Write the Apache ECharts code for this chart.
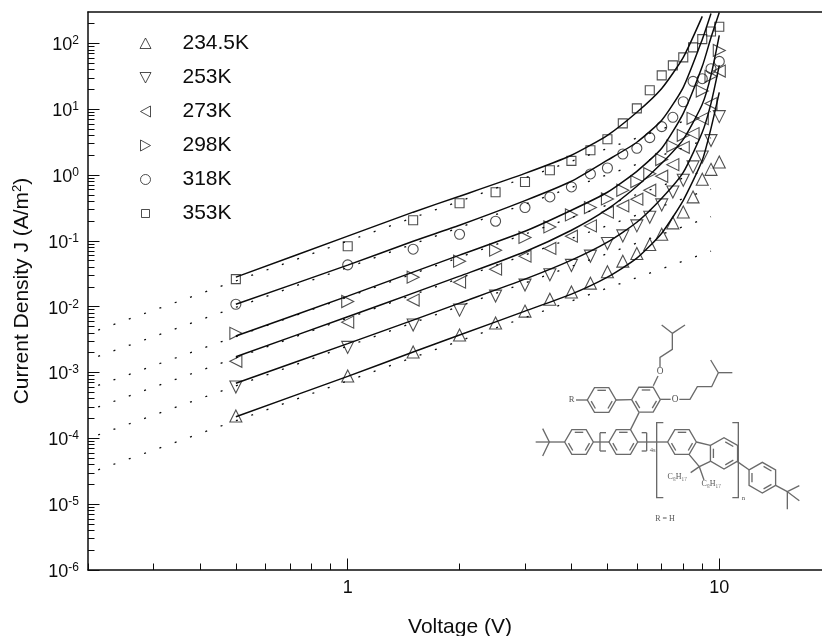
<!DOCTYPE html>
<html>
<head>
<meta charset="utf-8">
<style>html,body{margin:0;padding:0;background:#fff}#c{width:822px;height:636px}</style>
<script src="https://cdn.jsdelivr.net/npm/echarts@6/dist/echarts.min.js"></script>
</head>
<body>
<div id="c"></div>
<script>
// ---- data ----
const names = ['234.5K', '253K', '273K', '298K', '318K', '353K'];
const measuredV = [0.5, 1, 1.5, 2, 2.5, 3, 3.5, 4, 4.5, 5, 5.5, 6, 6.5, 7, 7.5, 8, 8.5, 9, 9.5, 10];
const j234 = [0.000219, 0.000885, 0.00205, 0.00371, 0.00564, 0.00857, 0.0130, 0.0167, 0.0228, 0.0339, 0.0492, 0.0644, 0.0881, 0.126, 0.188, 0.275, 0.466, 0.863, 1.22, 1.58];
const j253 = [0.000603, 0.00241, 0.00526, 0.00887, 0.0145, 0.0213, 0.0305, 0.0424, 0.0586, 0.0914, 0.119, 0.169, 0.229, 0.352, 0.554, 0.834, 1.33, 1.88, 3.34, 7.72];
const j273 = [0.00148, 0.00583, 0.0126, 0.0236, 0.0372, 0.0586, 0.0767, 0.118, 0.169, 0.273, 0.340, 0.430, 0.588, 0.959, 1.44, 2.64, 4.26, 7.20, 12.2, 38.0];
const j298 = [0.00394, 0.0120, 0.0281, 0.0492, 0.0723, 0.113, 0.163, 0.248, 0.321, 0.434, 0.588, 0.797, 1.05, 1.72, 2.76, 4.02, 7.28, 18.9, 31.6, 78.3];
const j318 = [0.0109, 0.0432, 0.0748, 0.126, 0.199, 0.321, 0.465, 0.66, 1.04, 1.28, 2.09, 2.55, 3.71, 5.44, 7.54, 13.0, 26.5, 29.1, 41.3, 53.3];
const j353 = [0.0262, 0.083, 0.206, 0.373, 0.548, 0.786, 1.18, 1.64, 2.38, 3.49, 6.1, 10.3, 19.4, 32.7, 46.4, 61.3, 86.9, 116, 152, 179];
const measured = [j234, j253, j273, j298, j318, j353];

// solid fit curves
const fitV234 = [0.5, 1, 1.5, 2, 3, 4, 5, 6, 7, 8, 9, 9.5, 10];
const fit234 = [0.000213, 0.000875, 0.00205, 0.00371, 0.00857, 0.0155, 0.0281, 0.0546, 0.131, 0.414, 1.68, 5.13, 18.0];
const fitV253 = [0.5, 1, 1.5, 2, 3, 4, 5, 6, 7, 8, 9, 9.5, 10];
const fit253 = [0.000686, 0.00275, 0.00626, 0.01135, 0.0262, 0.0509, 0.0955, 0.192, 0.445, 1.10, 4.46, 12.3, 46.4];
const fitV273 = [0.5, 1, 1.5, 2, 3, 4, 5, 6, 7, 8, 9, 9.5, 10];
const fit273 = [0.00174, 0.00703, 0.0161, 0.0291, 0.0685, 0.145, 0.303, 0.676, 1.51, 3.49, 11.9, 32.7, 132];
const fitV298 = [0.5, 1, 1.5, 2, 3, 4, 5, 6, 7, 8, 9, 9.5, 10];
const fit298 = [0.00358, 0.0145, 0.0335, 0.0607, 0.140, 0.292, 0.548, 1.14, 2.55, 8.67, 44.8, 123, 295];
const fitV318 = [0.5, 1, 1.5, 2, 3, 4, 5, 6, 7, 8, 9, 9.5];
const fit318 = [0.0109, 0.0428, 0.0989, 0.173, 0.409, 0.805, 1.68, 3.15, 6.79, 21.5, 115, 285];
const fitV353 = [0.5, 1, 1.5, 2, 3, 4, 5, 6, 7, 8, 9];
const fit353 = [0.0281, 0.118, 0.273, 0.477, 1.06, 2.0, 4.02, 9.0, 20.7, 61.3, 257];
const fitX = [fitV234, fitV253, fitV273, fitV298, fitV318, fitV353];
const fitY = [fit234, fit253, fit273, fit298, fit318, fit353];

// dotted low-voltage extrapolations: ends at V = 0.213 and V = 9.5
const dotV = [0.213, 9.5];
const dot234 = [3.32e-5, 0.0697];
const dot253 = [1.128e-4, 0.233];
const dot273 = [3.0e-4, 0.62];
const dot298 = [6.38e-4, 1.27];
const dot318 = [0.00176, 3.68];
const dot353 = [0.00442, 9.23];
const dotted = [dot234, dot253, dot273, dot298, dot318, dot353];

const xMajor = [1, 10];
const xMinor = [0.2, 0.3, 0.4, 0.5, 0.6, 0.7, 0.8, 0.9, 2, 3, 4, 5, 6, 7, 8, 9];
const yMajor = [1e-6, 1e-5, 1e-4, 1e-3, 1e-2, 1e-1, 1, 10, 100];
const yMinor = [];
[1e-6, 1e-5, 1e-4, 1e-3, 1e-2, 1e-1, 1, 10].forEach(d => [2,3,4,5,6,7,8,9].forEach(m => yMinor.push(+(d * m).toPrecision(2))));
yMinor.push(200);

// ---- styling ----
const FONT = '"Liberation Sans", Arial, sans-serif';
const INK = '#0c0c0c';
const symbols = ['triangle', 'triangle', 'triangle', 'triangle', 'circle', 'rect'];
const rotations = [0, 180, 90, -90, 0, 0];
const sizes = [12, 12, 12, 12, 10, 9];
// legend glyphs in a 12x12 box (the two leading moves fix the box)
const legendIcons = [
  'path://M0 0M12 12M0.5 11L6 0.5L11.5 11Z',
  'path://M0 0M12 12M0.5 1L11.5 1L6 11.5Z',
  'path://M0 0M12 12M1 6L11 0.5L11 11.5Z',
  'path://M0 0M12 12M11 6L1 0.5L1 11.5Z',
  'path://M0 0M12 12M1 6A5 5 0 1 0 11 6A5 5 0 1 0 1 6Z',
  'path://M0 0M12 12M2 2L10 2L10 10L2 10Z'
];

const series = [];
names.forEach((n, i) => {
  series.push({
    name: n + ' fit', type: 'line', xAxisIndex: 0, yAxisIndex: 0, showSymbol: false, symbol: 'none',
    smooth: 0.2, clip: true, silent: true,
    lineStyle: { color: INK, width: 1.5 },
    data: fitX[i].map((v, k) => [v, fitY[i][k]])
  });
  series.push({
    name: n + ' extrapolation', type: 'line', xAxisIndex: 0, yAxisIndex: 0, showSymbol: false, symbol: 'none',
    silent: true,
    lineStyle: { color: INK, width: 1.3, type: [2, 14.25] },
    data: dotV.map((v, k) => [v, dotted[i][k]])
  });
  series.push({
    name: n, type: 'scatter', xAxisIndex: 0, yAxisIndex: 0,
    symbol: symbols[i], symbolSize: sizes[i], symbolRotate: rotations[i],
    itemStyle: { color: 'rgba(0,0,0,0)', borderColor: '#222', borderWidth: 1.1 },
    data: measuredV.map((v, k) => [v, measured[i][k]])
  });
});

// ---- molecule inset (decorative drawing, coordinates in a 3x local frame) ----
const INSET = '#6a6a6a';
function hex(c, r, rot) {
  const p = [];
  for (let a = 0; a < 6; a++) { const t = (a * 60 + rot) * Math.PI / 180; p.push([c[0] + r * Math.cos(t), c[1] + r * Math.sin(t)]); }
  return p;
}
const rings = [
  [[305, 240], 43, 0], [[438, 239], 43, 0], [[237, 366], 43, 0], [[370, 366], 43, 0],
  [[546, 366], 43, 0], [[672, 400], 47, 30], [[787, 473], 46, 30]
];
const bonds = [
  [[228,240],[262,240]], [[348,240],[395,239]], [[392,328],[417,278]],
  [[107,366],[194,366]], [[128,326],[148,366],[128,408]], [[280,366],[327,366]], [[413,366],[503,366]],
  [[300,338],[300,393]], [[300,338],[318,338]], [[300,393],[318,393]],
  [[440,338],[440,393]], [[425,338],[440,338]], [[425,393],[440,393]],
  [[490,308],[470,308],[470,533],[490,533]], [[697,308],[715,308],[715,533],[697,533]],
  [[589,366],[631,376]], [[567,403],[598,440],[631,424]], [[712,425],[748,450]],
  [[827,496],[862,515]], [[898,497],[862,515],[898,542]], [[862,515],[862,568]],
  [[460,197],[474,168]], [[480,142],[480,112],[517,88],[517,40],[485,15]], [[517,40],[555,15]],
  [[481,238],[512,238]], [[538,238],[570,238],[592,200],[635,200],[655,158],[632,120]], [[655,158],[697,158]],
  [[598,440],[572,458]], [[598,440],[612,480]]
];
const insetText = [
  ['R', 215, 240, 26], ['O', 480, 155, 28], ['O', 525, 238, 28], ['4s', 458, 392, 20], ['n', 730, 536, 20],
  ['C\u2088H\u2081\u2087', 532, 470, 24], ['C\u2088H\u2081\u2087', 634, 492, 24], ['R = H', 495, 597, 24]
];
const insetChildren = [];
rings.forEach(r => {
  const p = hex(r[0], r[1], r[2]);
  insetChildren.push({ type: 'polygon', shape: { points: p }, style: { fill: 'none', stroke: INSET, lineWidth: 4 } });
  const q = hex(r[0], r[1] * 0.78, r[2]);
  [0, 2, 4].forEach(a => {
    const u = q[a], v = q[(a + 1) % 6];
    const s = [u[0] + (v[0] - u[0]) * 0.12, u[1] + (v[1] - u[1]) * 0.12];
    const e = [u[0] + (v[0] - u[0]) * 0.88, u[1] + (v[1] - u[1]) * 0.88];
    insetChildren.push({ type: 'polyline', shape: { points: [s, e] }, style: { fill: 'none', stroke: INSET, lineWidth: 4 } });
  });
});
bonds.forEach(b => insetChildren.push({ type: 'polyline', shape: { points: b }, style: { fill: 'none', stroke: INSET, lineWidth: 4 } }));
insetText.forEach(t => insetChildren.push({ type: 'text', x: t[1], y: t[2], style: { text: t[0], fill: '#555', font: t[3] + 'px "Liberation Serif", serif', align: 'center', verticalAlign: 'middle' } }));

const option = {
  animation: false,
  backgroundColor: '#fff',
  textStyle: { fontFamily: FONT },
  grid: { left: 88, right: 0, top: 12, bottom: 66, containLabel: false, outerBoundsMode: 'none' },
  legend: {
    data: names.map((n, i) => ({ name: n, icon: legendIcons[i] })),
    orient: 'vertical', left: 134, top: 27, itemWidth: 12, itemHeight: 12, itemGap: 11,
    selectedMode: false,
    itemStyle: { borderWidth: 1 },
    textStyle: { fontFamily: FONT, fontSize: 21, color: INK, padding: [0, 0, 0, 26], lineHeight: 23 }
  },
  xAxis: [
    { type: 'log', min: 0.2, max: 18.9, logBase: 10, position: 'bottom',
      name: 'Voltage (V)', nameLocation: 'middle', nameGap: 47,
      nameTextStyle: { color: INK, fontFamily: FONT, fontSize: 21, padding: [0, 0, 0, 10] },
      axisLine: { onZero: false, lineStyle: { color: INK, width: 1.5 } },
      axisTick: { show: true, inside: true, length: 6.5, customValues: xMinor, lineStyle: { color: INK, width: 1 } },
      axisLabel: { show: false }, splitLine: { show: false }, minorTick: { show: false } },
    { type: 'log', min: 0.2, max: 18.9, logBase: 10, position: 'bottom',
      axisLine: { onZero: false, show: false },
      axisTick: { show: true, inside: true, length: 11.5, customValues: xMajor, lineStyle: { color: INK, width: 1 } },
      axisLabel: { show: true, customValues: xMajor, color: INK, fontFamily: FONT, fontSize: 18, margin: 9, formatter: v => String(Math.round(v)) },
      splitLine: { show: false } },
    { type: 'log', min: 0.2, max: 18.9, logBase: 10, position: 'top',
      axisLine: { onZero: false, lineStyle: { color: INK, width: 1.5 } },
      axisTick: { show: false }, axisLabel: { show: false }, splitLine: { show: false } }
  ],
  yAxis: [
    { type: 'log', min: 1e-6, max: 300, logBase: 10, position: 'left',
      name: 'Current Density J (A/m{s|2})', nameLocation: 'middle', nameGap: 55, nameRotate: 90,
      nameTextStyle: { color: INK, fontFamily: FONT, fontSize: 21,
        rich: { s: { fontFamily: FONT, fontSize: 13, padding: [0, 0, 9, 0], color: INK } } },
      axisLine: { onZero: false, lineStyle: { color: INK, width: 1.5 } },
      axisTick: { show: true, inside: true, length: 6.5, customValues: yMinor, lineStyle: { color: INK, width: 1 } },
      axisLabel: { show: false }, splitLine: { show: false } },
    { type: 'log', min: 1e-6, max: 300, logBase: 10, position: 'left',
      axisLine: { onZero: false, show: false },
      axisTick: { show: true, inside: true, length: 11.5, customValues: yMajor, lineStyle: { color: INK, width: 1 } },
      axisLabel: { show: true, customValues: yMajor, margin: 9, color: INK, padding: [4, 0, 0, 0],
        formatter: v => '{b|10}{s|' + Math.round(Math.log10(v)) + '}',
        rich: {
          b: { fontFamily: FONT, fontSize: 18, color: INK },
          s: { fontFamily: FONT, fontSize: 12, color: INK, padding: [0, 0, 9, 0] }
        } },
      splitLine: { show: false } }
  ],
  graphic: [{ type: 'group', x: 500, y: 320, scaleX: 1 / 3, scaleY: 1 / 3, silent: true, children: insetChildren }],
  series: series
};
const chart = echarts.init(document.getElementById('c'), null, { renderer: 'canvas', width: 822, height: 636 });
chart.setOption(option);
</script>
</body>
</html>
